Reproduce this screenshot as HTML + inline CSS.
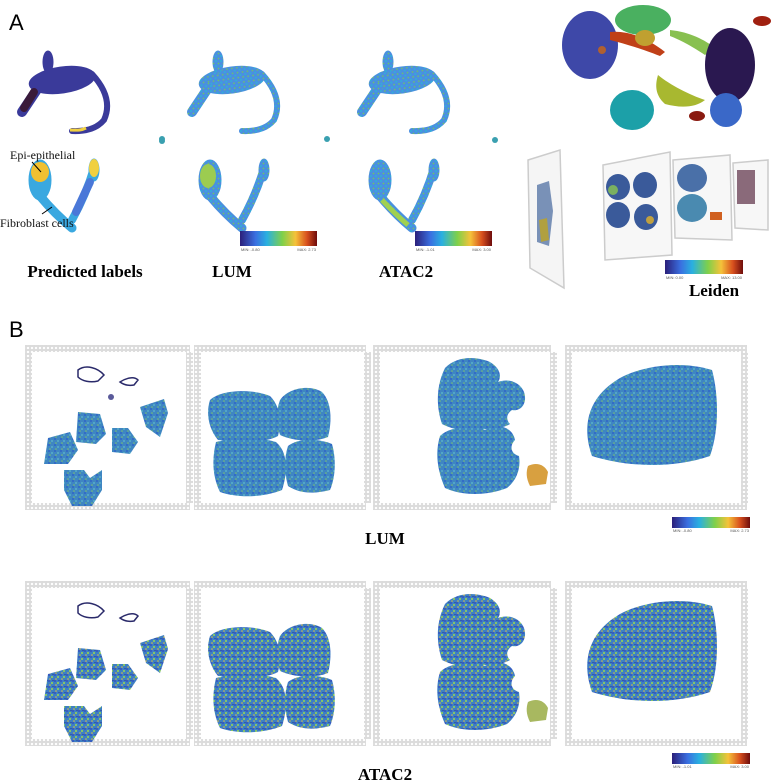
<!DOCTYPE html>
<html><head><meta charset="utf-8">
<style>
html,body{margin:0;padding:0;background:#fff;}
svg{display:block;}
.lab{font-family:"Liberation Serif",serif;font-weight:bold;fill:#000;}
.pl{font-family:"Liberation Sans",sans-serif;fill:#000;}
.ann{font-family:"Liberation Serif",serif;fill:#111;font-size:12px;}
.cbt{font-family:"Liberation Sans",sans-serif;font-size:4px;fill:#555;}
</style></head>
<body>
<svg width="776" height="781" viewBox="0 0 776 781" xmlns="http://www.w3.org/2000/svg">
<defs>
<linearGradient id="jet" x1="0" x2="1" y1="0" y2="0">
<stop offset="0" stop-color="#2b1f7a"/><stop offset="0.2" stop-color="#3a6fe0"/><stop offset="0.35" stop-color="#2ab0e0"/>
<stop offset="0.55" stop-color="#7fd04a"/><stop offset="0.72" stop-color="#f5c23a"/><stop offset="0.87" stop-color="#d8501e"/><stop offset="1" stop-color="#6e0c0c"/>
</linearGradient>
<pattern id="tis" width="6" height="6" patternUnits="userSpaceOnUse">
<rect width="6" height="6" fill="#3f86c2"/>
<circle cx="1" cy="1" r="1" fill="#2f64c8"/><circle cx="4" cy="3" r="1" fill="#58b0c8"/>
<circle cx="2" cy="5" r="0.8" fill="#7cc070"/>
</pattern>
<pattern id="tis2" width="6" height="6" patternUnits="userSpaceOnUse">
<rect width="6" height="6" fill="#3e7fc4"/>
<circle cx="1" cy="1" r="1" fill="#3452c0"/><circle cx="4" cy="3" r="1.1" fill="#8ccc60"/>
<circle cx="2" cy="5" r="0.8" fill="#e0c040"/><circle cx="5" cy="0.5" r="0.6" fill="#2a3a90"/>
</pattern>
<pattern id="dots" width="4" height="4" patternUnits="userSpaceOnUse">
<circle cx="2" cy="2" r="1.2" fill="none" stroke="#aaa" stroke-width="0.6"/>
</pattern>
<pattern id="umapL" width="5" height="5" patternUnits="userSpaceOnUse">
<rect width="5" height="5" fill="#4b8fe0"/><circle cx="1" cy="1" r="1" fill="#2fb0d8"/><circle cx="3.5" cy="3.5" r="0.9" fill="#6cc070"/>
</pattern>
<g id="umapTop" stroke-linecap="round">
<ellipse cx="62" cy="80" rx="33" ry="13" transform="rotate(-8 62 80)" stroke-width="1"/>
<ellipse cx="48" cy="62" rx="5" ry="11" stroke-width="1"/>
<path d="M38,88 L22,112" fill="none" stroke-width="10"/>
<path d="M92,74 Q114,98 104,120 Q94,132 72,131" fill="none" stroke-width="6"/>
</g>
<g id="umapBot" stroke-linecap="round">
<ellipse cx="40" cy="180" rx="11" ry="20" stroke-width="1"/>
<path d="M40,196 Q55,214 72,228" fill="none" stroke-width="9"/>
<path d="M72,220 Q86,195 94,168" fill="none" stroke-width="8"/>
<ellipse cx="94" cy="170" rx="5" ry="11" stroke-width="1"/>
</g>
<g id="tissues">
<path d="M78,370 c8,-6 20,-2 26,5 l-6,6 c-8,2 -16,0 -20,-4z" fill="none" stroke="#2a2a6a" stroke-width="1.5"/>
<path d="M120,382 c6,-4 14,-6 18,-2 l-4,5 c-6,1 -10,0 -14,-3z" fill="none" stroke="#2a2a6a" stroke-width="1.5"/>
<path d="M78,412 l22,2 l6,20 l-10,10 l-20,-2z"/>
<path d="M140,407 l24,-8 l4,14 l-8,24 l-14,-10z"/>
<path d="M112,428 l16,0 l10,14 l-8,12 l-18,-2z"/>
<path d="M48,438 l22,-6 l8,18 l-10,14 l-24,0z"/>
<path d="M64,470 l20,0 l6,8 l12,-8 l0,20 l-10,16 l-20,0 l-8,-16z"/>
<path d="M210,400 c10,-10 40,-12 60,-4 c10,10 12,25 8,40 c-15,8 -40,6 -60,4 c-10,-12 -12,-28 -8,-40z"/>
<path d="M280,400 c8,-12 30,-16 42,-8 c10,10 10,30 6,45 c-15,6 -35,4 -48,-2 c-4,-12 -4,-24 0,-35z"/>
<path d="M216,442 c15,-4 40,-6 60,0 c12,10 12,30 6,48 c-20,8 -45,8 -62,2 c-8,-16 -8,-34 -4,-50z"/>
<path d="M288,446 c10,-8 30,-8 44,-2 c4,14 4,32 -2,46 c-15,4 -30,4 -42,-4 c-4,-14 -4,-28 0,-40z"/>
<path d="M445,368 c12,-12 30,-12 45,-6 c10,6 12,14 8,20 c10,-4 22,0 26,10 c4,12 -4,20 -12,18 c-6,4 -6,10 -2,14 c-10,6 -22,4 -30,6 c-14,2 -26,0 -38,-6 c-6,-18 -6,-38 3,-56z"/>
<path d="M440,436 c10,-10 30,-10 45,-6 c14,-8 28,-2 30,10 c-6,6 -4,14 4,16 c2,12 -2,24 -12,32 c-20,8 -45,8 -62,0 c-8,-18 -10,-36 -5,-52z"/>
<path d="M620,378 c22,-12 60,-18 92,-8 c6,22 8,58 -2,86 c-35,12 -80,12 -118,0 c-10,-28 -6,-58 28,-78z"/>
</g>
</defs>

<text x="9" y="30" class="pl" font-size="22">A</text>

<g>
<use href="#umapTop" fill="#3a3a9a" stroke="#3a3a9a"/>
<path d="M24,108 L34,92" stroke="#3a1a3a" stroke-width="8" stroke-linecap="round"/>
<path d="M70,130 C76,130 80,131 86,128" stroke="#f0d040" stroke-width="3" fill="none"/>
<use href="#umapBot" fill="#3aa8e0" stroke="#3aa8e0"/>
<ellipse cx="40" cy="172" rx="9" ry="10" fill="#f0c030"/>
<ellipse cx="94" cy="168" rx="5" ry="9" fill="#f0d040"/>
<path d="M76,212 Q84,195 90,182" stroke="#4a78d8" stroke-width="8" fill="none" stroke-linecap="round"/>
<circle cx="162" cy="141" r="3" fill="#3aa0b0"/>
</g>
<text x="10" y="159" class="ann">Epi-epithelial</text>
<line x1="32" y1="162" x2="41" y2="172" stroke="#000" stroke-width="1"/>
<text x="0" y="227" class="ann">Fibroblast cells</text>
<line x1="42" y1="214" x2="52" y2="207" stroke="#000" stroke-width="1"/>

<g transform="translate(170,0)">
<use href="#umapTop" fill="url(#umapL)" stroke="url(#umapL)"/>
<use href="#umapBot" fill="url(#umapL)" stroke="url(#umapL)"/>
<ellipse cx="38" cy="176" rx="8" ry="12" fill="#9ccc50"/>
<circle cx="-8" cy="139" r="3" fill="#3aa0b0"/>
</g>
<g transform="translate(340,0)">
<use href="#umapTop" fill="url(#umapL)" stroke="url(#umapL)"/>
<use href="#umapBot" fill="url(#umapL)" stroke="url(#umapL)"/>
<path d="M42,200 Q55,214 68,225" stroke="#a0d050" stroke-width="5" fill="none"/>
<circle cx="-13" cy="139" r="3" fill="#3aa0b0"/>
<circle cx="155" cy="140" r="3" fill="#3aa0b0"/>
</g>

<g>
<rect x="240" y="231" width="77" height="15" fill="url(#jet)"/>
<text x="241" y="251" class="cbt">MIN: -0.80</text><text x="316" y="251" class="cbt" text-anchor="end">MAX: 2.73</text>
</g>
<g>
<rect x="415" y="231" width="77" height="15" fill="url(#jet)"/>
<text x="416" y="251" class="cbt">MIN: -1.01</text><text x="491" y="251" class="cbt" text-anchor="end">MAX: 3.00</text>
</g>

<text x="85" y="277" class="lab" font-size="17" text-anchor="middle">Predicted labels</text>
<text x="232" y="277" class="lab" font-size="17" text-anchor="middle">LUM</text>
<text x="406" y="277" class="lab" font-size="17" text-anchor="middle">ATAC2</text>

<g>
<ellipse cx="590" cy="45" rx="28" ry="34" fill="#3e48a8"/>
<ellipse cx="643" cy="20" rx="28" ry="15" fill="#4ab060"/>
<path d="M610,32 C630,30 650,40 665,52 L660,56 C640,48 625,44 610,40Z" fill="#c04018"/>
<ellipse cx="645" cy="38" rx="10" ry="8" fill="#c0a030"/>
<path d="M670,30 C690,32 705,40 715,48 L705,55 C690,45 680,40 670,36Z" fill="#88c050"/>
<ellipse cx="730" cy="65" rx="25" ry="37" fill="#2a1850"/>
<ellipse cx="632" cy="110" rx="22" ry="20" fill="#1ca0a8"/>
<path d="M658,75 C670,85 690,95 705,100 C695,108 680,108 665,104 C655,95 655,85 658,75Z" fill="#a8b830"/>
<ellipse cx="726" cy="110" rx="16" ry="17" fill="#3a68c8"/>
<ellipse cx="762" cy="21" rx="9" ry="5" fill="#a02010"/>
<ellipse cx="697" cy="116" rx="8" ry="5" fill="#8a1a10"/>
<circle cx="602" cy="50" r="4" fill="#b06030"/>
</g>

<g>
<polygon points="528,160 560,150 564,288 530,268" fill="#f5f5f5" stroke="#ccc" stroke-width="1.5"/>
<path d="M537,185 l12,-4 l4,30 l-4,35 l-12,-4z" fill="#5a78a8" opacity="0.8"/>
<path d="M539,220 l8,-2 l2,22 l-8,2z" fill="#b0a040"/>
<polygon points="603,165 670,152 672,255 605,260" fill="#f7f7f7" stroke="#ccc" stroke-width="1.5"/>
<ellipse cx="618" cy="187" rx="12" ry="13" fill="#3a5a9a"/><ellipse cx="645" cy="185" rx="12" ry="13" fill="#3a5a9a"/>
<ellipse cx="618" cy="215" rx="12" ry="13" fill="#3a5a9a"/><ellipse cx="646" cy="217" rx="12" ry="13" fill="#3a5a9a"/>
<circle cx="613" cy="190" r="5" fill="#7ab060"/><circle cx="650" cy="220" r="4" fill="#c0a040"/>
<polygon points="673,160 730,155 732,240 675,238" fill="#f7f7f7" stroke="#ccc" stroke-width="1.5"/>
<ellipse cx="692" cy="178" rx="15" ry="14" fill="#4a70a8"/><ellipse cx="692" cy="208" rx="15" ry="14" fill="#4a8ab0"/>
<rect x="710" y="212" width="12" height="8" fill="#d06020"/>
<polygon points="733,163 768,160 768,230 735,228" fill="#f7f7f7" stroke="#ccc" stroke-width="1.5"/>
<rect x="737" y="170" width="18" height="34" fill="#8a6a7a"/>
</g>
<g>
<rect x="665" y="260" width="78" height="14" fill="url(#jet)"/>
<text x="666" y="279" class="cbt">MIN: 0.00</text><text x="742" y="279" class="cbt" text-anchor="end">MAX: 13.00</text>
</g>
<text x="714" y="296" class="lab" font-size="17" text-anchor="middle">Leiden</text>

<text x="9" y="337" class="pl" font-size="22">B</text>

<g id="frames" fill="url(#dots)">
<rect x="25" y="345" width="165" height="7"/><rect x="25" y="503" width="165" height="7"/>
<rect x="25" y="352" width="7" height="151"/><rect x="186" y="352" width="7" height="151"/>
<rect x="194" y="345" width="172" height="7"/><rect x="194" y="503" width="172" height="7"/>
<rect x="194" y="352" width="7" height="151"/><rect x="364" y="352" width="7" height="151"/>
<rect x="373" y="345" width="178" height="7"/><rect x="373" y="503" width="178" height="7"/>
<rect x="373" y="352" width="7" height="151"/><rect x="550" y="352" width="7" height="151"/>
<rect x="565" y="345" width="182" height="7"/><rect x="565" y="503" width="182" height="7"/>
<rect x="565" y="352" width="7" height="151"/><rect x="741" y="352" width="7" height="151"/>
</g>
<g>
<use href="#tissues" fill="url(#tis)"/>
<circle cx="111" cy="397" r="3" fill="#5a5a9a"/>
<path d="M528,466 c8,-4 16,-2 20,6 l-2,12 l-16,2 c-4,-8 -4,-14 -2,-20z" fill="#d8a040"/>
</g>
<g>
<rect x="672" y="517" width="78" height="11" fill="url(#jet)"/>
<text x="673" y="532" class="cbt">MIN: -0.80</text><text x="749" y="532" class="cbt" text-anchor="end">MAX: 2.73</text>
</g>
<text x="385" y="544" class="lab" font-size="17" text-anchor="middle">LUM</text>

<g transform="translate(0,236)">
<use href="#frames"/>
<use href="#tissues" fill="url(#tis2)"/>
<path d="M528,466 c8,-4 16,-2 20,6 l-2,12 l-16,2 c-4,-8 -4,-14 -2,-20z" fill="#a8b860"/>
</g>
<g>
<rect x="672" y="753" width="78" height="11" fill="url(#jet)"/>
<text x="673" y="768" class="cbt">MIN: -1.01</text><text x="749" y="768" class="cbt" text-anchor="end">MAX: 3.00</text>
</g>
<text x="385" y="780" class="lab" font-size="17" text-anchor="middle">ATAC2</text>
</svg>
</body></html>
